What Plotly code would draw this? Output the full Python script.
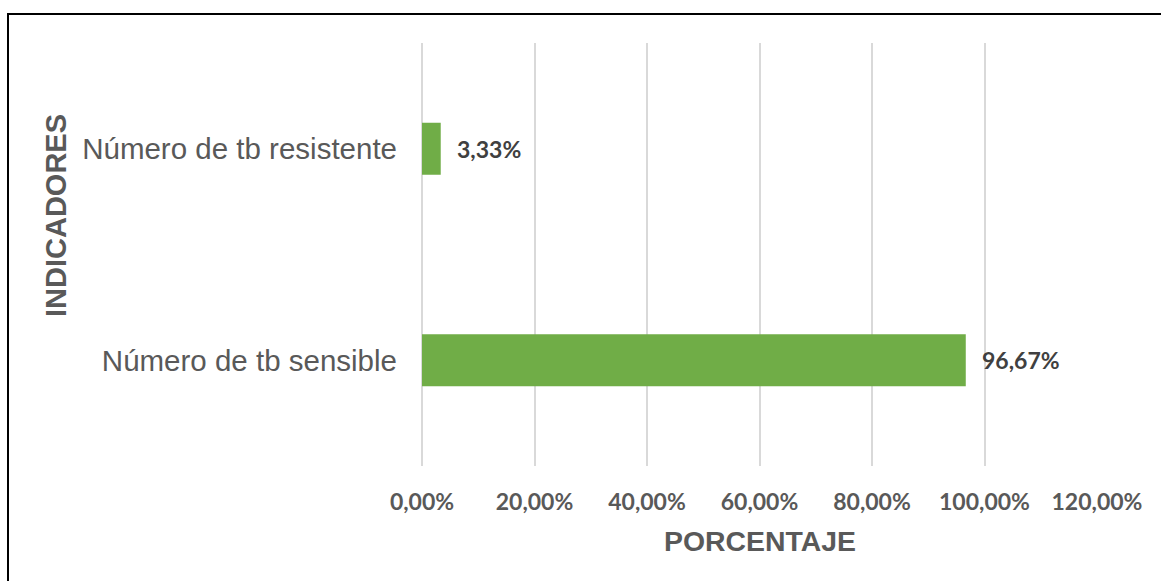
import plotly.graph_objects as go

categories = ["Número de tb resistente", "Número de tb sensible"]
values = [3.33, 96.67]
value_labels = ["3,33%", "96,67%"]
tick_vals = [0, 20, 40, 60, 80, 100, 120]
tick_text = ["0,00%", "20,00%", "40,00%", "60,00%", "80,00%", "100,00%", "120,00%"]

W, H = 1161, 581
L, R, T, B = 422, 64, 43, 115
pw, ph = W - L - R, H - T - B

def px_x(p):
    return (p - L) / pw

def px_y(p):
    return (H - B - p) / ph

fig = go.Figure()
fig.add_trace(go.Bar(
    x=values, y=categories, orientation="h",
    marker=dict(color="#70AD47", line=dict(width=0)),
    hoverinfo="skip",
))

for v, c, t in zip(values, categories, value_labels):
    fig.add_annotation(
        x=v, y=c, xref="x", yref="y", text=t, showarrow=False,
        xanchor="left", yanchor="middle", xshift=14,
        font=dict(family="Lato", size=23, weight="bold", color="#404040"),
    )

fig.add_annotation(
    x=px_x(55.5), y=px_y(215.5), xref="paper", yref="paper",
    text="INDICADORES", textangle=-90, showarrow=False,
    xanchor="center", yanchor="middle",
    font=dict(family="Liberation Sans", size=29, weight="bold", color="#595959"),
)
fig.add_annotation(
    x=0.5, y=px_y(541), xref="paper", yref="paper",
    text="PORCENTAJE", showarrow=False,
    xanchor="center", yanchor="middle",
    font=dict(family="Liberation Sans", size=28.4, weight="bold", color="#595959"),
)

fig.add_shape(
    type="rect", xref="paper", yref="paper",
    x0=px_x(8), x1=px_x(1170), y0=px_y(590), y1=px_y(14),
    line=dict(color="black", width=2), fillcolor="rgba(0,0,0,0)", layer="above",
)

fig.update_layout(
    width=W, height=H,
    margin=dict(l=L, r=R, t=T, b=B, pad=0),
    paper_bgcolor="white", plot_bgcolor="white",
    showlegend=False, bargap=0.754,
    xaxis=dict(
        range=[0, 120], tickvals=tick_vals, ticktext=tick_text,
        showgrid=True, gridcolor="#D9D9D9", gridwidth=2,
        zeroline=True, zerolinecolor="#D9D9D9", zerolinewidth=2,
        showline=False, ticks="", ticklabelstandoff=20,
        tickfont=dict(family="Lato", size=23, weight="bold", color="#595959"),
        fixedrange=True,
    ),
    yaxis=dict(
        range=[1.5, -0.5], showgrid=False, zeroline=False, showline=False,
        ticks="", ticklabelstandoff=24,
        tickfont=dict(family="Liberation Sans", size=29.5, color="#595959"),
        fixedrange=True,
    ),
)

fig.write_html("out.html")
